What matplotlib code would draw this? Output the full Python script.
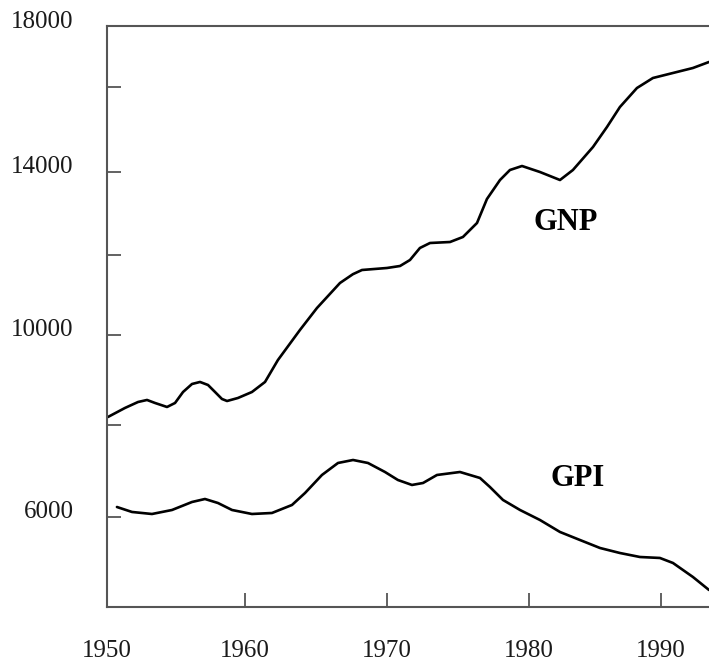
import numpy as np
import matplotlib
matplotlib.use("Agg")
import matplotlib.pyplot as plt
from matplotlib.scale import FuncScale
from matplotlib.transforms import ScaledTranslation

# ---- data ----
gnp_years = [1950.07, 1951.3, 1952.25, 1952.9, 1953.48, 1954.35, 1954.93, 1955.51, 1956.16,
             1956.74, 1957.32, 1957.83, 1958.33, 1958.7, 1959.49, 1960.49, 1961.41, 1962.32,
             1963.87, 1965.07, 1966.69, 1967.6, 1968.24, 1970.0, 1970.92, 1971.62, 1972.32,
             1973.03, 1974.44, 1975.35, 1976.34, 1977.04, 1977.96, 1978.66, 1979.51, 1980.83,
             1982.35, 1983.33, 1984.85, 1985.91, 1986.89, 1988.18, 1989.39, 1991.21, 1992.42,
             1993.64]
gnp_values = [8178, 8378, 8511, 8556, 8489, 8400, 8489, 8733, 8911,
              8956, 8889, 8733, 8578, 8533, 8600, 8733, 8956, 9444,
              10125, 10675, 11300, 11520, 11625, 11675, 11725, 11875, 12169,
              12289, 12313, 12434, 12771, 13349, 13807, 14047, 14141, 14000,
              13807, 14047, 14588, 15059, 15529, 15976, 16295, 16492, 16623,
              16820]

gpi_years = [1950.72, 1951.81, 1953.26, 1954.71, 1956.16, 1957.1, 1958.04, 1959.06, 1960.49,
             1961.9, 1963.31, 1964.23, 1965.42, 1966.55, 1967.61, 1968.66, 1969.86, 1970.77,
             1971.76, 1972.54, 1973.52, 1975.14, 1976.55, 1977.25, 1978.17, 1979.37, 1980.83,
             1982.35, 1983.86, 1985.38, 1986.89, 1988.41, 1989.92, 1990.91, 1992.42, 1993.64]
gpi_values = [6217, 6109, 6065, 6152, 6326, 6391, 6304, 6152, 6065,
              6087, 6261, 6522, 6913, 7174, 7239, 7174, 6978, 6804,
              6696, 6739, 6913, 6978, 6848, 6652, 6370, 6152, 5935,
              5674, 5500, 5326, 5217, 5130, 5109, 5000, 4696, 4413]

x_ticks = [1950, 1960, 1970, 1980, 1990]
x_ticklabels = ["1950", "1960", "1970", "1980", "1990"]
y_ticks = [6000, 8000, 10000, 12000, 14000, 16000, 18000]
y_ticklabels = ["6000", "", "10000", "", "14000", "", "18000"]

# ---- axis calibration of the (hand-drawn, uneven) reference axes ----
X_KNOTS_V = [1900, 1950, 1960, 1970, 1980, 1990, 2050]
X_KNOTS_P = [-583, 107, 245, 387, 529, 661, 1453]
Y_KNOTS_V = [0, 6000, 8000, 10000, 12000, 14000, 16000, 18000, 30000]
Y_KNOTS_P = [-186, 90, 182, 272, 352, 435, 520, 581, 947]


def pw(vals, pos):
    vals = np.asarray(vals, float)
    pos = np.asarray(pos, float)

    def fwd(v):
        return np.interp(np.asarray(v, float), vals, pos)

    def inv(p):
        return np.interp(np.asarray(p, float), pos, vals)
    return fwd, inv


plt.rcParams['font.family'] = ['Liberation Serif', 'DejaVu Serif']

fig = plt.figure(figsize=(7.09, 6.62), dpi=100)
ax = fig.add_axes([107 / 709, 55 / 662, 1 - 107 / 709, (607 - 26) / 662])

ax.set_xscale(FuncScale(ax.xaxis, pw(X_KNOTS_V, X_KNOTS_P)))
ax.set_yscale(FuncScale(ax.yaxis, pw(Y_KNOTS_V, Y_KNOTS_P)))

for xs, ys in [(gnp_years, gnp_values), (gpi_years, gpi_values)]:
    ax.plot(xs, ys, color="black", lw=1.9, solid_capstyle="round",
            solid_joinstyle="round", antialiased=True)

ax.set_xlim(1950, 1993.64)
ax.set_ylim(4043, 18000)

ax.set_xticks(x_ticks)
ax.set_xticklabels(x_ticklabels)
ax.set_yticks(y_ticks)
ax.set_yticklabels(y_ticklabels)
ax.minorticks_off()

ax.tick_params(axis="both", direction="in", length=10, width=1.3, color="#555555",
               labelsize=18, labelcolor="#1a1a1a")
ax.tick_params(axis="x", pad=24)
ax.tick_params(axis="y", pad=24)

off = ScaledTranslation(0, 7 / 100, fig.dpi_scale_trans)
for lab in ax.get_yticklabels():
    lab.set_transform(lab.get_transform() + off)

for s in ["left", "bottom", "top"]:
    ax.spines[s].set_color("#555555")
    ax.spines[s].set_linewidth(1.5)
ax.spines["right"].set_visible(False)

ax.text(1982.8, 12795, "GNP", fontsize=22, fontweight="bold", ha="center", va="center",
        color="black")
ax.text(1983.7, 6826, "GPI", fontsize=22, fontweight="bold", ha="center", va="center",
        color="black")

fig.savefig("out.png", dpi=100, facecolor="white")
